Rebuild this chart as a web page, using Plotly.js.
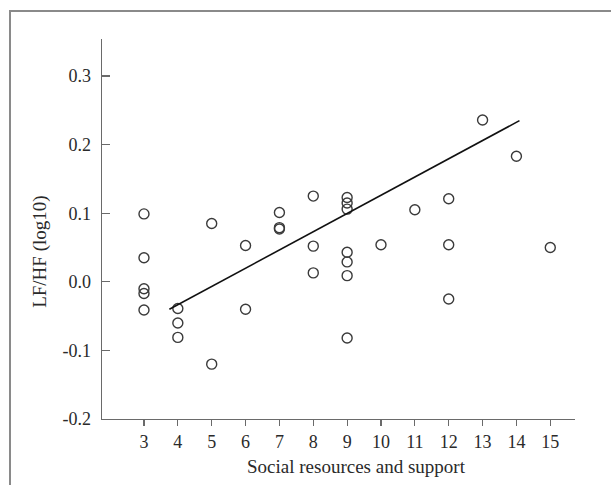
<!DOCTYPE html>
<html>
<head>
<meta charset="utf-8">
<script src="https://cdn.plot.ly/plotly-3.0.1.min.js"></script>
<style>
  html, body { margin: 0; padding: 0; background: #fff; }
  #wrap { position: relative; width: 611px; height: 485px; overflow: hidden; }
  #chart { position: absolute; left: 0; top: 0; width: 611px; height: 485px; }
  #frame { position: absolute; left: 9px; top: 10px; width: 700px; height: 600px;
           border-top: 2px solid #8a8a8a; border-left: 2px solid #8a8a8a; pointer-events: none; }
</style>
</head>
<body>
<div id="wrap">
  <div id="chart"></div>
  <div id="frame"></div>
</div>
<script>
// Social resources and support (x) vs LF/HF (log10) (y)
const socialSupport = [3,3,3,3,3, 4,4,4, 5,5, 6,6, 7,7,7, 8,8,8, 9,9,9,9,9,9,9, 10, 11, 12,12,12, 13, 14, 15];
const lfhfLog10 = [0.099,0.035,-0.010,-0.017,-0.041,
                   -0.039,-0.060,-0.081,
                   0.085,-0.120,
                   0.053,-0.040,
                   0.101,0.079,0.077,
                   0.125,0.052,0.013,
                   0.123,0.115,0.106,0.043,0.029,0.009,-0.082,
                   0.054,
                   0.105,
                   0.121,0.054,-0.025,
                   0.236,
                   0.183,
                   0.050];
// Regression line end points
const fitX = [3.75, 14.09];
const fitY = [-0.040, 0.235];
// Tick labels
const xTickVals = [3,4,5,6,7,8,9,10,11,12,13,14,15];
const yTickVals = [-0.2,-0.1,0.0,0.1,0.2,0.3];
const yTickText = ['-0.2','-0.1','0.0','0.1','0.2','0.3'];
const xTitle = 'Social resources and support';
const yTitle = 'LF/HF (log10)';

const FONT = 'Liberation Serif, Times New Roman, serif';

const traces = [
  {
    x: socialSupport, y: lfhfLog10, type: 'scatter', mode: 'markers',
    marker: { symbol: 'circle-open', size: 10, color: '#3a3a3a', line: { width: 1.4, color: '#3a3a3a' } },
    showlegend: false, hoverinfo: 'skip'
  },
  {
    x: fitX, y: fitY, type: 'scatter', mode: 'lines',
    line: { color: '#111', width: 1.6 },
    showlegend: false, hoverinfo: 'skip'
  }
];

const layout = {
  width: 611, height: 485,
  margin: { l: 102, r: 36, t: 39, b: 66 },
  paper_bgcolor: '#fff', plot_bgcolor: '#fff',
  font: { family: FONT, color: '#2a2a2a', size: 18 },
  xaxis: {
    range: [1.76, 15.73], tickvals: xTickVals, ticktext: xTickVals.map(String),
    ticks: 'outside', ticklen: 6, tickwidth: 1.2, tickcolor: '#6a6a6a',
    showline: true, linecolor: '#6a6a6a', linewidth: 1.4,
    showgrid: false, zeroline: false,
    tickfont: { family: FONT, size: 18, color: '#2a2a2a' }
  },
  yaxis: {
    range: [-0.2, 0.354], tickvals: yTickVals, ticktext: yTickText,
    ticks: 'inside', ticklen: 8, tickwidth: 1.2, tickcolor: '#6a6a6a',
    showline: true, linecolor: '#6a6a6a', linewidth: 1.4,
    showgrid: false, zeroline: false,
    ticklabelstandoff: 6,
    tickfont: { family: FONT, size: 18, color: '#2a2a2a' }
  },
  annotations: [
    { text: xTitle, xref: 'paper', yref: 'paper', x: 0.537, y: -0.125,
      xanchor: 'center', yanchor: 'middle', showarrow: false,
      font: { family: FONT, size: 19, color: '#2a2a2a' } },
    { text: yTitle, xref: 'paper', yref: 'paper', x: -0.131, y: 0.44,
      xanchor: 'center', yanchor: 'middle', showarrow: false, textangle: -90,
      font: { family: FONT, size: 19, color: '#2a2a2a' } }
  ]
};

Plotly.newPlot('chart', traces, layout, { staticPlot: true, displayModeBar: false });
</script>
</body>
</html>
